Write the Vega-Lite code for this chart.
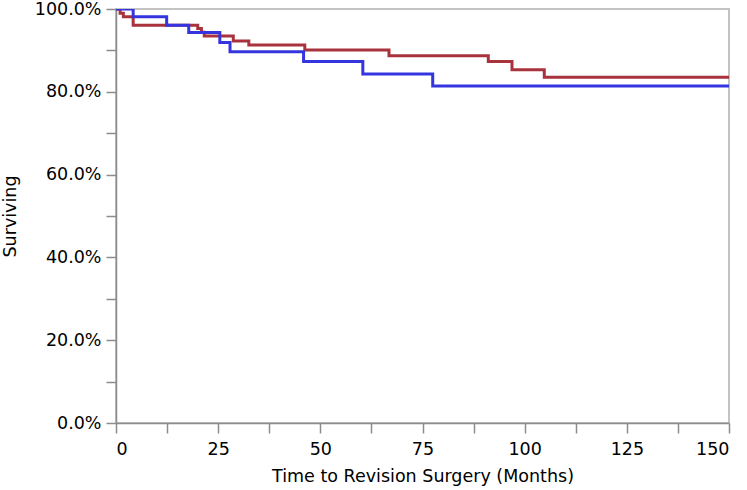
{
  "$schema": "https://vega.github.io/schema/vega-lite/v6.json",
  "width": 613,
  "height": 414,
  "autosize": {"type": "none"},
  "padding": {"left": 116, "top": 9, "right": 18, "bottom": 67},
  "background": "white",
  "config": {
    "view": {"stroke": "#b0b0b0", "strokeWidth": 1.5},
    "font": "DejaVu Sans",
    "axis": {
      "grid": false,
      "domainColor": "#8c8c8c",
      "domainWidth": 1.5,
      "tickColor": "#8c8c8c",
      "tickWidth": 1.5,
      "tickSize": 10,
      "labelFont": "DejaVu Sans",
      "labelFontSize": 17.5,
      "labelColor": "#000",
      "titleFont": "DejaVu Sans",
      "titleFontSize": 17.5,
      "titleFontWeight": "normal",
      "titleColor": "#000"
    }
  },
  "data": {
    "values": [
      {"group": "A", "t": 0, "s": 1.0},
      {"group": "A", "t": 1.0, "s": 0.99},
      {"group": "A", "t": 1.8, "s": 0.981},
      {"group": "A", "t": 4.2, "s": 0.961},
      {"group": "A", "t": 20.0, "s": 0.953},
      {"group": "A", "t": 20.9, "s": 0.944},
      {"group": "A", "t": 21.6, "s": 0.935},
      {"group": "A", "t": 28.7, "s": 0.923},
      {"group": "A", "t": 32.5, "s": 0.913},
      {"group": "A", "t": 46.2, "s": 0.901},
      {"group": "A", "t": 66.8, "s": 0.887},
      {"group": "A", "t": 91.1, "s": 0.873},
      {"group": "A", "t": 96.9, "s": 0.853},
      {"group": "A", "t": 104.8, "s": 0.835},
      {"group": "A", "t": 150, "s": 0.835},
      {"group": "B", "t": 0, "s": 1.0},
      {"group": "B", "t": 4.2, "s": 0.981},
      {"group": "B", "t": 12.4, "s": 0.961},
      {"group": "B", "t": 17.8, "s": 0.943},
      {"group": "B", "t": 25.4, "s": 0.919},
      {"group": "B", "t": 27.9, "s": 0.897},
      {"group": "B", "t": 45.9, "s": 0.873},
      {"group": "B", "t": 60.4, "s": 0.843},
      {"group": "B", "t": 77.5, "s": 0.814},
      {"group": "B", "t": 150, "s": 0.814}
    ]
  },
  "mark": {"type": "line", "interpolate": "step-after", "strokeWidth": 3, "clip": true},
  "encoding": {
    "x": {
      "field": "t",
      "type": "quantitative",
      "scale": {"domain": [0, 150], "nice": false},
      "axis": {
        "title": "Time to Revision Surgery (Months)",
        "values": [0, 12.5, 25, 37.5, 50, 62.5, 75, 87.5, 100, 112.5, 125, 137.5, 150],
        "labelExpr": "datum.value % 25 == 0 ? datum.label : ''",
        "labelPadding": 7,
        "titleBaseline": "alphabetic",
        "titleY": 58,
        "encode": {
          "ticks": {"update": {"y2": {"signal": "datum.value % 25 == 0 ? 10 : 5"}}}
        }
      }
    },
    "y": {
      "field": "s",
      "type": "quantitative",
      "scale": {"domain": [0, 1], "nice": false},
      "axis": {
        "title": "Surviving",
        "format": ".1%",
        "values": [0, 0.1, 0.2, 0.3, 0.4, 0.5, 0.6, 0.7, 0.8, 0.9, 1.0],
        "labelExpr": "round(datum.value * 10) % 2 == 0 ? datum.label : ''",
        "labelPadding": 5,
        "titleBaseline": "alphabetic",
        "titleX": -101,
        "titleY": 207,
        "encode": {
          "ticks": {"update": {"x2": {"signal": "round(datum.value * 10) % 2 == 0 ? -10 : -5"}}}
        }
      }
    },
    "color": {
      "field": "group",
      "type": "nominal",
      "scale": {"domain": ["A", "B"], "range": ["#a8333c", "#3535e0"]},
      "legend": null
    }
  }
}
